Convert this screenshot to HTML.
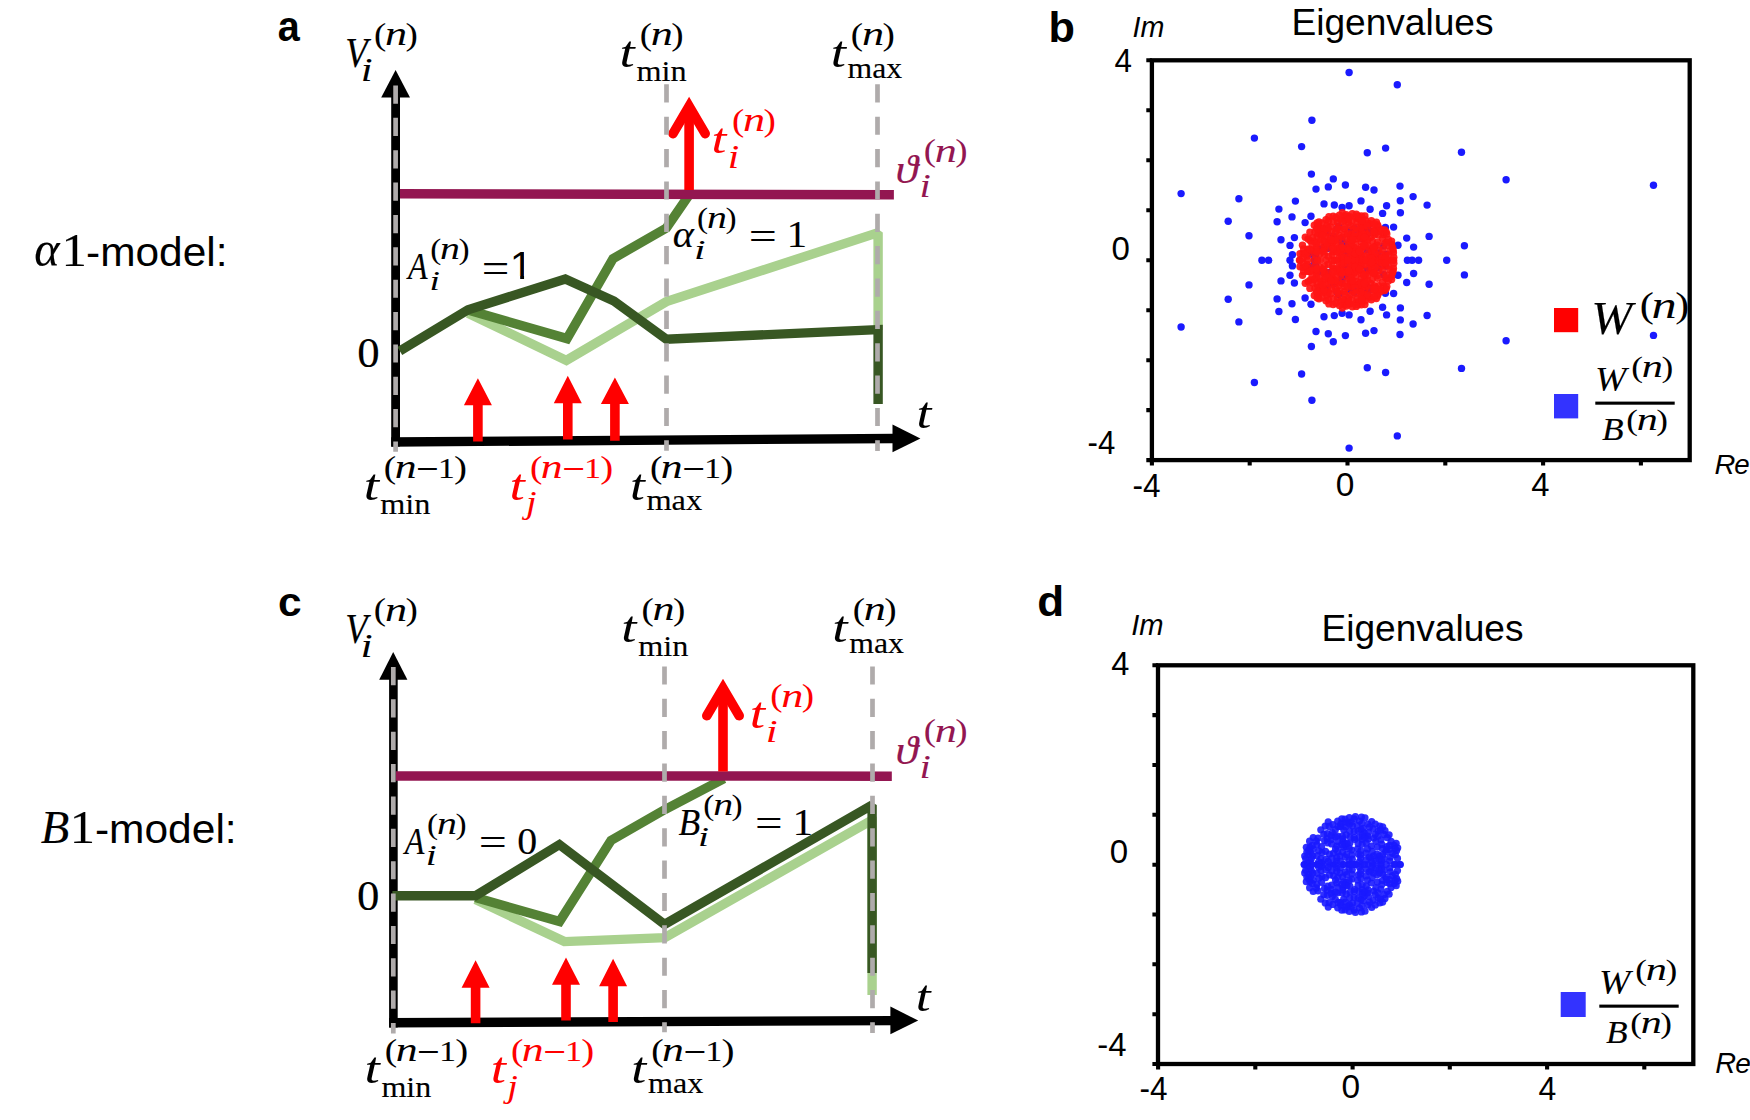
<!DOCTYPE html>
<html lang="en">
<head>
<meta charset="utf-8">
<title>alpha1-model and B1-model: membrane potentials and eigenvalues</title>
<style>
html,body{margin:0;padding:0;background:#fff;}
body{width:1750px;height:1120px;overflow:hidden;}
svg{display:block;}
text{white-space:pre;}
.m{font-family:"Liberation Serif", "DejaVu Serif", serif;}
.s{font-family:"Liberation Sans", "DejaVu Sans", sans-serif;}
</style>
</head>
<body>
<svg width="1750" height="1120" viewBox="0 0 1750 1120">
<defs><clipPath id="nofoot"><path d="M0,-90 H34.3 V2 H24.9 V-7.6 H0 Z"/></clipPath></defs>
<rect width="1750" height="1120" fill="#fff"/>
<g id="panel-a">
<path d="M391.2,442.0 L894,438.45" stroke="#000" stroke-width="9.4" fill="none"/>
<path d="M920.4,438.4 L892.5,424.6 L892.5,452.3 Z" fill="#000"/>
<path d="M395.6,446.6 L395.6,96" stroke="#000" stroke-width="8.8" fill="none"/>
<path d="M395.6,70 L410,97.6 L381.2,97.6 Z" fill="#000"/>
<polyline points="468,313.2 566.4,360.4 666.4,301.6 878.1,232.6 878.1,330" fill="none" stroke="#a9d18e" stroke-width="9.4" stroke-linejoin="miter" stroke-miterlimit="1.6"/>
<polyline points="468,310 567,338.6 613,258.6 666.4,228 689,195" fill="none" stroke="#548235" stroke-width="9.4" stroke-linejoin="miter" stroke-miterlimit="1.6"/>
<polyline points="399.8,351 468,309.8 565.3,279 613.9,301 666.4,339.2 878.1,329.6 878.1,403.9" fill="none" stroke="#385723" stroke-width="9.4" stroke-linejoin="miter" stroke-miterlimit="1.6"/>
<path d="M400,193.8 L893.9,194.7" stroke="#931651" stroke-width="9.5" fill="none"/>
<path d="M477.9,378.2 L491.9,405.3 L482.7,405.3 L482.7,441.6 L473.09999999999997,441.6 L473.09999999999997,405.3 L463.9,405.3 Z" fill="#ff0000"/>
<path d="M567.8,375.8 L581.8,403.2 L572.5999999999999,403.2 L572.5999999999999,439.6 L563.0,439.6 L563.0,403.2 L553.8,403.2 Z" fill="#ff0000"/>
<path d="M614.9,377.6 L628.9,404.1 L619.6999999999999,404.1 L619.6999999999999,440.8 L610.1,440.8 L610.1,404.1 L600.9,404.1 Z" fill="#ff0000"/>
<path d="M689.1,190 L689.1,106.2" stroke="#ff0000" stroke-width="9.6" fill="none"/>
<path d="M673.0,133.6 L689.1,106.2 L705.2,133.6" stroke="#ff0000" stroke-width="9.6" fill="none" stroke-linecap="round" stroke-linejoin="miter" stroke-miterlimit="10"/>
<line x1="395.6" y1="85.5" x2="395.6" y2="451.8" stroke="#afabab" stroke-width="4.7" stroke-dasharray="18.2 14.16"/>
<line x1="666.5" y1="84.3" x2="666.5" y2="450.8" stroke="#afabab" stroke-width="4.7" stroke-dasharray="18.2 14.16"/>
<line x1="877.5" y1="84.3" x2="877.5" y2="450.9" stroke="#afabab" stroke-width="4.7" stroke-dasharray="18.2 14.16"/>
</g>
<g id="labels-a">
<text class="s" transform="matrix(0.3957 0 0 0.4235 277.74 41.39)" font-size="100" font-weight="bold">a</text>
<text class="m" transform="matrix(0.3665 0 0 0.4299 345.19 67.25)" font-size="100" font-style="italic" stroke="#000" stroke-width="0.35" stroke-linejoin="round">V</text>
<text class="m" transform="matrix(0.4273 0 0 0.3293 360.82 81.40)" font-size="100" font-style="italic">i</text>
<text class="m" transform="matrix(0.3699 0 0 0.3154 373.97 45.09)" font-size="100">(</text>
<text class="m" transform="matrix(0.4422 0 0 0.3417 385.02 45.40)" font-size="100" font-style="italic">n</text>
<text class="m" transform="matrix(0.3699 0 0 0.3154 405.51 45.09)" font-size="100">)</text>
<text class="m" transform="matrix(0.5474 0 0 0.4435 619.39 67.47)" font-size="100" font-style="italic">t</text>
<text class="m" transform="matrix(0.3225 0 0 0.3021 636.42 81.10)" font-size="100" stroke="#000" stroke-width="0.45" stroke-linejoin="round">min</text>
<text class="m" transform="matrix(0.3699 0 0 0.3154 639.77 45.09)" font-size="100">(</text>
<text class="m" transform="matrix(0.4422 0 0 0.3417 650.82 45.40)" font-size="100" font-style="italic">n</text>
<text class="m" transform="matrix(0.3699 0 0 0.3154 671.31 45.09)" font-size="100">)</text>
<text class="m" transform="matrix(0.5474 0 0 0.4435 830.79 67.47)" font-size="100" font-style="italic">t</text>
<text class="m" transform="matrix(0.3174 0 0 0.3015 847.53 77.61)" font-size="100" stroke="#000" stroke-width="0.45" stroke-linejoin="round">max</text>
<text class="m" transform="matrix(0.3699 0 0 0.3154 850.87 45.09)" font-size="100">(</text>
<text class="m" transform="matrix(0.4422 0 0 0.3417 861.92 45.40)" font-size="100" font-style="italic">n</text>
<text class="m" transform="matrix(0.3699 0 0 0.3154 882.41 45.09)" font-size="100">)</text>
<text class="m" transform="matrix(0.5356 0 0 0.4312 711.55 153.18)" font-size="100" font-style="italic" fill="#ff0000">t</text>
<text class="m" transform="matrix(0.4117 0 0 0.3293 727.71 167.90)" font-size="100" font-style="italic" fill="#ff0000">i</text>
<text class="m" transform="matrix(0.3699 0 0 0.3154 731.97 130.99)" font-size="100" fill="#ff0000">(</text>
<text class="m" transform="matrix(0.4422 0 0 0.3417 743.02 131.30)" font-size="100" font-style="italic" fill="#ff0000">n</text>
<text class="m" transform="matrix(0.3699 0 0 0.3154 763.51 130.99)" font-size="100" fill="#ff0000">)</text>
<text class="m" transform="matrix(0.4590 0 0 0.4107 895.46 182.80)" font-size="100" font-style="italic" fill="#931651" stroke="#931651" stroke-width="0.32" stroke-linejoin="round">ϑ</text>
<text class="m" transform="matrix(0.4065 0 0 0.3277 919.54 197.10)" font-size="100" font-style="italic" fill="#931651">i</text>
<text class="m" transform="matrix(0.3699 0 0 0.3154 923.77 161.19)" font-size="100" fill="#931651">(</text>
<text class="m" transform="matrix(0.4422 0 0 0.3417 934.82 161.50)" font-size="100" font-style="italic" fill="#931651">n</text>
<text class="m" transform="matrix(0.3699 0 0 0.3154 955.31 161.19)" font-size="100" fill="#931651">)</text>
<text class="m" transform="matrix(0.3199 0 0 0.3848 407.95 278.90)" font-size="100" font-style="italic" stroke="#000" stroke-width="0.40" stroke-linejoin="round">A</text>
<text class="m" transform="matrix(0.3752 0 0 0.2764 429.51 290.10)" font-size="100" font-style="italic">i</text>
<text class="m" transform="matrix(0.3329 0 0 0.2839 430.14 258.90)" font-size="100">(</text>
<text class="m" transform="matrix(0.3980 0 0 0.3075 440.08 259.18)" font-size="100" font-style="italic">n</text>
<text class="m" transform="matrix(0.3329 0 0 0.2839 458.52 258.90)" font-size="100">)</text>
<text class="m" transform="matrix(0.4900 0 0 0.4120 481.86 282.13)" font-size="100">=</text>
<text class="s" clip-path="url(#nofoot)" transform="matrix(0.4186 0 0 0.3895 509.77 278.90)" font-size="100">1</text>
<text class="m" transform="matrix(0.4026 0 0 0.3797 672.70 247.21)" font-size="100" font-style="italic" stroke="#000" stroke-width="0.36" stroke-linejoin="round">α</text>
<text class="m" transform="matrix(0.4169 0 0 0.2779 693.98 258.80)" font-size="100" font-style="italic">i</text>
<text class="m" transform="matrix(0.3329 0 0 0.2839 697.04 227.60)" font-size="100">(</text>
<text class="m" transform="matrix(0.3980 0 0 0.3075 706.98 227.88)" font-size="100" font-style="italic">n</text>
<text class="m" transform="matrix(0.3329 0 0 0.2839 725.42 227.60)" font-size="100">)</text>
<text class="m" transform="matrix(0.4986 0 0 0.3920 748.72 249.92)" font-size="100">=</text>
<text class="m" transform="matrix(0.4062 0 0 0.3711 786.83 247.10)" font-size="100" stroke="#000" stroke-width="0.36" stroke-linejoin="round">1</text>
<text class="m" transform="matrix(0.4483 0 0 0.4238 357.19 367.09)" font-size="100" stroke="#000" stroke-width="0.32" stroke-linejoin="round">0</text>
<text class="m" transform="matrix(0.5356 0 0 0.4417 916.55 427.77)" font-size="100" font-style="italic">t</text>
<text class="m" transform="matrix(0.5514 0 0 0.4347 363.68 499.58)" font-size="100" font-style="italic">t</text>
<text class="m" transform="matrix(0.3231 0 0 0.2975 380.22 514.10)" font-size="100" stroke="#000" stroke-width="0.45" stroke-linejoin="round">min</text>
<text class="m" transform="matrix(0.3738 0 0 0.3143 383.76 478.11)" font-size="100">(</text>
<text class="m" transform="matrix(0.4375 0 0 0.3374 394.64 478.20)" font-size="100" font-style="italic">n</text>
<text class="m" transform="matrix(0.4040 0 0 0.4016 415.99 481.93)" font-size="100">−</text>
<text class="m" transform="matrix(0.3352 0 0 0.2999 438.05 478.10)" font-size="100" stroke="#000" stroke-width="0.44" stroke-linejoin="round">1</text>
<text class="m" transform="matrix(0.3894 0 0 0.3143 454.05 478.11)" font-size="100">)</text>
<text class="m" transform="matrix(0.5514 0 0 0.4347 509.48 499.58)" font-size="100" font-style="italic" fill="#ff0000">t</text>
<text class="m" transform="matrix(0.3802 0 0 0.3166 525.97 513.36)" font-size="100" font-style="italic" fill="#ff0000">j</text>
<text class="m" transform="matrix(0.3738 0 0 0.3143 529.96 478.11)" font-size="100" fill="#ff0000">(</text>
<text class="m" transform="matrix(0.4375 0 0 0.3374 540.84 478.20)" font-size="100" font-style="italic" fill="#ff0000">n</text>
<text class="m" transform="matrix(0.4040 0 0 0.4016 562.19 481.93)" font-size="100" fill="#ff0000">−</text>
<text class="m" transform="matrix(0.3352 0 0 0.2999 584.25 478.10)" font-size="100" fill="#ff0000" stroke="#ff0000" stroke-width="0.44" stroke-linejoin="round">1</text>
<text class="m" transform="matrix(0.3894 0 0 0.3143 600.25 478.11)" font-size="100" fill="#ff0000">)</text>
<text class="m" transform="matrix(0.5356 0 0 0.4347 629.95 499.58)" font-size="100" font-style="italic">t</text>
<text class="m" transform="matrix(0.3240 0 0 0.3015 646.42 509.81)" font-size="100" stroke="#000" stroke-width="0.45" stroke-linejoin="round">max</text>
<text class="m" transform="matrix(0.3738 0 0 0.3143 649.96 478.11)" font-size="100">(</text>
<text class="m" transform="matrix(0.4375 0 0 0.3374 660.84 478.20)" font-size="100" font-style="italic">n</text>
<text class="m" transform="matrix(0.4040 0 0 0.4016 682.19 481.93)" font-size="100">−</text>
<text class="m" transform="matrix(0.3352 0 0 0.2999 704.25 478.10)" font-size="100" stroke="#000" stroke-width="0.44" stroke-linejoin="round">1</text>
<text class="m" transform="matrix(0.3894 0 0 0.3143 720.25 478.11)" font-size="100">)</text>
</g>
<g id="panel-c">
<path d="M389.1,1022.8 L892,1020.6" stroke="#000" stroke-width="9.4" fill="none"/>
<path d="M918.2,1020.6 L890.4,1006.4 L890.4,1034.3 Z" fill="#000"/>
<path d="M393.4,1027.5 L393.4,678" stroke="#000" stroke-width="8.6" fill="none"/>
<path d="M393.2,652 L407.4,679.8 L379.2,679.8 Z" fill="#000"/>
<polyline points="475.5,899.6 564.4,941.6 664.9,937.6 869.6,821.4 872.1,821.4 872.1,994.9" fill="none" stroke="#a9d18e" stroke-width="9.4" stroke-linejoin="miter" stroke-miterlimit="1.6"/>
<polyline points="475.5,897.6 559.6,921.6 611,840.4 664.9,809.5 724,778.6" fill="none" stroke="#548235" stroke-width="9.4" stroke-linejoin="miter" stroke-miterlimit="1.6"/>
<polyline points="392.4,895.8 475.5,895.8 559.4,844.6 664.6,924.4 872.1,805 872.1,972.9" fill="none" stroke="#385723" stroke-width="9.4" stroke-linejoin="miter" stroke-miterlimit="1.6"/>
<path d="M395.8,775.9 L891.8,776.15" stroke="#931651" stroke-width="9.5" fill="none"/>
<path d="M475.6,960.3 L489.6,987.7 L480.40000000000003,987.7 L480.40000000000003,1023.2 L470.8,1023.2 L470.8,987.7 L461.6,987.7 Z" fill="#ff0000"/>
<path d="M566,957.6 L580,984.7 L570.8,984.7 L570.8,1020.4 L561.2,1020.4 L561.2,984.7 L552,984.7 Z" fill="#ff0000"/>
<path d="M613.1,958.8 L627.1,986.2 L617.9,986.2 L617.9,1022 L608.3000000000001,1022 L608.3000000000001,986.2 L599.1,986.2 Z" fill="#ff0000"/>
<path d="M723,771.5 L723,688.3" stroke="#ff0000" stroke-width="9.6" fill="none"/>
<path d="M706.8,715.7 L723,688.3 L739.2,715.7" stroke="#ff0000" stroke-width="9.6" fill="none" stroke-linecap="round" stroke-linejoin="miter" stroke-miterlimit="10"/>
<line x1="393.3" y1="667" x2="393.3" y2="1033.4" stroke="#afabab" stroke-width="4.7" stroke-dasharray="18.2 14.16"/>
<line x1="664.5" y1="666.4" x2="664.5" y2="1032.2" stroke="#afabab" stroke-width="4.7" stroke-dasharray="18.2 14.16"/>
<line x1="872.5" y1="666.4" x2="872.5" y2="1032.9" stroke="#afabab" stroke-width="4.7" stroke-dasharray="18.2 14.16"/>
</g>
<g id="labels-c">
<text class="s" transform="matrix(0.4244 0 0 0.4107 277.94 616.20)" font-size="100" font-weight="bold">c</text>
<text class="m" transform="matrix(0.3635 0 0 0.4299 345.20 642.65)" font-size="100" font-style="italic" stroke="#000" stroke-width="0.35" stroke-linejoin="round">V</text>
<text class="m" transform="matrix(0.4377 0 0 0.3293 360.46 657.00)" font-size="100" font-style="italic">i</text>
<text class="m" transform="matrix(0.3699 0 0 0.3154 373.87 620.29)" font-size="100">(</text>
<text class="m" transform="matrix(0.4422 0 0 0.3417 384.92 620.60)" font-size="100" font-style="italic">n</text>
<text class="m" transform="matrix(0.3699 0 0 0.3154 405.41 620.29)" font-size="100">)</text>
<text class="m" transform="matrix(0.5474 0 0 0.4435 621.19 642.47)" font-size="100" font-style="italic">t</text>
<text class="m" transform="matrix(0.3225 0 0 0.3021 638.22 656.10)" font-size="100" stroke="#000" stroke-width="0.45" stroke-linejoin="round">min</text>
<text class="m" transform="matrix(0.3699 0 0 0.3154 641.57 620.09)" font-size="100">(</text>
<text class="m" transform="matrix(0.4422 0 0 0.3417 652.62 620.40)" font-size="100" font-style="italic">n</text>
<text class="m" transform="matrix(0.3699 0 0 0.3154 673.11 620.09)" font-size="100">)</text>
<text class="m" transform="matrix(0.5514 0 0 0.4435 832.18 642.47)" font-size="100" font-style="italic">t</text>
<text class="m" transform="matrix(0.3174 0 0 0.3015 849.33 652.91)" font-size="100" stroke="#000" stroke-width="0.45" stroke-linejoin="round">max</text>
<text class="m" transform="matrix(0.3699 0 0 0.3154 852.67 620.09)" font-size="100">(</text>
<text class="m" transform="matrix(0.4422 0 0 0.3417 863.72 620.40)" font-size="100" font-style="italic">n</text>
<text class="m" transform="matrix(0.3699 0 0 0.3154 884.21 620.09)" font-size="100">)</text>
<text class="m" transform="matrix(0.5514 0 0 0.4470 749.68 728.16)" font-size="100" font-style="italic" fill="#ff0000">t</text>
<text class="m" transform="matrix(0.4273 0 0 0.3202 765.82 742.10)" font-size="100" font-style="italic" fill="#ff0000">i</text>
<text class="m" transform="matrix(0.3699 0 0 0.3154 770.17 706.19)" font-size="100" fill="#ff0000">(</text>
<text class="m" transform="matrix(0.4422 0 0 0.3417 781.22 706.50)" font-size="100" font-style="italic" fill="#ff0000">n</text>
<text class="m" transform="matrix(0.3699 0 0 0.3154 801.71 706.19)" font-size="100" fill="#ff0000">)</text>
<text class="m" transform="matrix(0.4590 0 0 0.4107 895.46 763.50)" font-size="100" font-style="italic" fill="#931651" stroke="#931651" stroke-width="0.32" stroke-linejoin="round">ϑ</text>
<text class="m" transform="matrix(0.4065 0 0 0.3293 919.54 777.90)" font-size="100" font-style="italic" fill="#931651">i</text>
<text class="m" transform="matrix(0.3699 0 0 0.3154 923.77 741.19)" font-size="100" fill="#931651">(</text>
<text class="m" transform="matrix(0.4422 0 0 0.3417 934.82 741.50)" font-size="100" font-style="italic" fill="#931651">n</text>
<text class="m" transform="matrix(0.3699 0 0 0.3154 955.31 741.19)" font-size="100" fill="#931651">)</text>
<text class="m" transform="matrix(0.3214 0 0 0.3848 404.76 854.00)" font-size="100" font-style="italic" stroke="#000" stroke-width="0.40" stroke-linejoin="round">A</text>
<text class="m" transform="matrix(0.3961 0 0 0.2839 425.80 865.20)" font-size="100" font-style="italic">i</text>
<text class="m" transform="matrix(0.3329 0 0 0.2839 427.04 833.50)" font-size="100">(</text>
<text class="m" transform="matrix(0.3980 0 0 0.3075 436.98 833.78)" font-size="100" font-style="italic">n</text>
<text class="m" transform="matrix(0.3329 0 0 0.2839 455.42 833.50)" font-size="100">)</text>
<text class="m" transform="matrix(0.4986 0 0 0.3920 478.72 856.32)" font-size="100">=</text>
<text class="m" transform="matrix(0.3987 0 0 0.3734 517.18 853.84)" font-size="100" stroke="#000" stroke-width="0.36" stroke-linejoin="round">0</text>
<text class="m" transform="matrix(0.3554 0 0 0.3801 678.47 835.19)" font-size="100" font-style="italic" stroke="#000" stroke-width="0.38" stroke-linejoin="round">B</text>
<text class="m" transform="matrix(0.3961 0 0 0.2764 698.10 846.40)" font-size="100" font-style="italic">i</text>
<text class="m" transform="matrix(0.3329 0 0 0.2839 703.24 815.10)" font-size="100">(</text>
<text class="m" transform="matrix(0.3980 0 0 0.3075 713.18 815.38)" font-size="100" font-style="italic">n</text>
<text class="m" transform="matrix(0.3329 0 0 0.2839 731.62 815.10)" font-size="100">)</text>
<text class="m" transform="matrix(0.4900 0 0 0.3920 754.96 837.12)" font-size="100">=</text>
<text class="m" transform="matrix(0.4034 0 0 0.3742 792.75 835.30)" font-size="100" stroke="#000" stroke-width="0.36" stroke-linejoin="round">1</text>
<text class="m" transform="matrix(0.4483 0 0 0.4223 356.89 909.59)" font-size="100" stroke="#000" stroke-width="0.32" stroke-linejoin="round">0</text>
<text class="m" transform="matrix(0.5356 0 0 0.4400 915.85 1010.67)" font-size="100" font-style="italic">t</text>
<text class="m" transform="matrix(0.5514 0 0 0.4347 364.48 1082.78)" font-size="100" font-style="italic">t</text>
<text class="m" transform="matrix(0.3205 0 0 0.2960 381.43 1097.00)" font-size="100" stroke="#000" stroke-width="0.45" stroke-linejoin="round">min</text>
<text class="m" transform="matrix(0.3738 0 0 0.3143 384.86 1061.11)" font-size="100">(</text>
<text class="m" transform="matrix(0.4375 0 0 0.3374 395.74 1061.20)" font-size="100" font-style="italic">n</text>
<text class="m" transform="matrix(0.4040 0 0 0.4016 417.09 1064.93)" font-size="100">−</text>
<text class="m" transform="matrix(0.3352 0 0 0.2999 439.15 1061.10)" font-size="100" stroke="#000" stroke-width="0.44" stroke-linejoin="round">1</text>
<text class="m" transform="matrix(0.3894 0 0 0.3143 455.15 1061.11)" font-size="100">)</text>
<text class="m" transform="matrix(0.5474 0 0 0.4347 490.69 1082.78)" font-size="100" font-style="italic" fill="#ff0000">t</text>
<text class="m" transform="matrix(0.3802 0 0 0.3166 507.17 1096.56)" font-size="100" font-style="italic" fill="#ff0000">j</text>
<text class="m" transform="matrix(0.3738 0 0 0.3143 510.96 1061.11)" font-size="100" fill="#ff0000">(</text>
<text class="m" transform="matrix(0.4375 0 0 0.3374 521.84 1061.20)" font-size="100" font-style="italic" fill="#ff0000">n</text>
<text class="m" transform="matrix(0.4040 0 0 0.4016 543.19 1064.93)" font-size="100" fill="#ff0000">−</text>
<text class="m" transform="matrix(0.3352 0 0 0.2999 565.25 1061.10)" font-size="100" fill="#ff0000" stroke="#ff0000" stroke-width="0.44" stroke-linejoin="round">1</text>
<text class="m" transform="matrix(0.3894 0 0 0.3143 581.25 1061.11)" font-size="100" fill="#ff0000">)</text>
<text class="m" transform="matrix(0.5396 0 0 0.4347 631.13 1082.78)" font-size="100" font-style="italic">t</text>
<text class="m" transform="matrix(0.3216 0 0 0.2994 647.92 1092.71)" font-size="100" stroke="#000" stroke-width="0.45" stroke-linejoin="round">max</text>
<text class="m" transform="matrix(0.3738 0 0 0.3143 651.16 1061.11)" font-size="100">(</text>
<text class="m" transform="matrix(0.4375 0 0 0.3374 662.04 1061.20)" font-size="100" font-style="italic">n</text>
<text class="m" transform="matrix(0.4040 0 0 0.4016 683.39 1064.93)" font-size="100">−</text>
<text class="m" transform="matrix(0.3352 0 0 0.2999 705.45 1061.10)" font-size="100" stroke="#000" stroke-width="0.44" stroke-linejoin="round">1</text>
<text class="m" transform="matrix(0.3894 0 0 0.3143 721.45 1061.11)" font-size="100">)</text>
</g>
<text class="m" transform="matrix(0.4827 0 0 0.4980 34.36 266.39)" font-size="100" font-style="italic" stroke="#000" stroke-width="0.29" stroke-linejoin="round">α</text>
<text class="m" transform="matrix(0.5084 0 0 0.4741 61.43 266.00)" font-size="100" stroke="#000" stroke-width="0.28" stroke-linejoin="round">1</text>
<text class="s" transform="matrix(0.4245 0 0 0.4126 86.01 266.00)" font-size="100">-model:</text>
<text class="m" transform="matrix(0.4658 0 0 0.4698 40.87 842.66)" font-size="100" font-style="italic" stroke="#000" stroke-width="0.30" stroke-linejoin="round">B</text>
<text class="m" transform="matrix(0.5056 0 0 0.4741 69.76 842.80)" font-size="100" stroke="#000" stroke-width="0.29" stroke-linejoin="round">1</text>
<text class="s" transform="matrix(0.4252 0 0 0.4126 94.91 842.80)" font-size="100">-model:</text>
<g id="panel-b">
<g fill="#1a1aff">
<circle cx="1349.1" cy="72.5" r="3.7"/><circle cx="1349.1" cy="448.1" r="3.7"/><circle cx="1397.3" cy="84.7" r="3.7"/><circle cx="1397.3" cy="435.9" r="3.7"/><circle cx="1311.9" cy="120.3" r="3.7"/><circle cx="1311.9" cy="400.3" r="3.7"/><circle cx="1254.4" cy="138.1" r="3.7"/><circle cx="1254.4" cy="382.5" r="3.7"/><circle cx="1301.6" cy="146.6" r="3.7"/><circle cx="1301.6" cy="374.0" r="3.7"/><circle cx="1385.6" cy="148.1" r="3.7"/><circle cx="1385.6" cy="372.5" r="3.7"/><circle cx="1367.3" cy="152.8" r="3.7"/><circle cx="1367.3" cy="367.8" r="3.7"/><circle cx="1461.5" cy="152.2" r="3.7"/><circle cx="1461.5" cy="368.4" r="3.7"/><circle cx="1506.1" cy="179.8" r="3.7"/><circle cx="1506.1" cy="340.8" r="3.7"/><circle cx="1653.5" cy="185.2" r="3.7"/><circle cx="1653.5" cy="335.4" r="3.7"/><circle cx="1311.4" cy="174.1" r="3.7"/><circle cx="1311.4" cy="346.5" r="3.7"/><circle cx="1333.3" cy="178.9" r="3.7"/><circle cx="1333.3" cy="341.7" r="3.7"/><circle cx="1345.4" cy="185.0" r="3.7"/><circle cx="1345.4" cy="335.6" r="3.7"/><circle cx="1328.3" cy="186.9" r="3.7"/><circle cx="1328.3" cy="333.7" r="3.7"/><circle cx="1316.0" cy="189.1" r="3.7"/><circle cx="1316.0" cy="331.5" r="3.7"/><circle cx="1365.6" cy="187.3" r="3.7"/><circle cx="1365.6" cy="333.3" r="3.7"/><circle cx="1374.0" cy="190.0" r="3.7"/><circle cx="1374.0" cy="330.6" r="3.7"/><circle cx="1400.0" cy="186.1" r="3.7"/><circle cx="1400.0" cy="334.5" r="3.7"/><circle cx="1413.1" cy="196.6" r="3.7"/><circle cx="1413.1" cy="324.0" r="3.7"/><circle cx="1238.9" cy="198.7" r="3.7"/><circle cx="1238.9" cy="321.9" r="3.7"/><circle cx="1295.4" cy="201.1" r="3.7"/><circle cx="1295.4" cy="319.5" r="3.7"/><circle cx="1361.0" cy="200.9" r="3.7"/><circle cx="1361.0" cy="319.7" r="3.7"/><circle cx="1400.3" cy="200.7" r="3.7"/><circle cx="1400.3" cy="319.9" r="3.7"/><circle cx="1324.0" cy="203.9" r="3.7"/><circle cx="1324.0" cy="316.7" r="3.7"/><circle cx="1334.3" cy="205.0" r="3.7"/><circle cx="1334.3" cy="315.6" r="3.7"/><circle cx="1342.1" cy="207.4" r="3.7"/><circle cx="1342.1" cy="313.2" r="3.7"/><circle cx="1349.1" cy="205.7" r="3.7"/><circle cx="1349.1" cy="314.9" r="3.7"/><circle cx="1386.6" cy="205.7" r="3.7"/><circle cx="1386.6" cy="314.9" r="3.7"/><circle cx="1427.1" cy="205.1" r="3.7"/><circle cx="1427.1" cy="315.5" r="3.7"/><circle cx="1278.9" cy="209.1" r="3.7"/><circle cx="1278.9" cy="311.5" r="3.7"/><circle cx="1370.1" cy="209.3" r="3.7"/><circle cx="1370.1" cy="311.3" r="3.7"/><circle cx="1382.6" cy="213.4" r="3.7"/><circle cx="1382.6" cy="307.2" r="3.7"/><circle cx="1400.4" cy="212.7" r="3.7"/><circle cx="1400.4" cy="307.9" r="3.7"/><circle cx="1292.0" cy="216.9" r="3.7"/><circle cx="1292.0" cy="303.7" r="3.7"/><circle cx="1311.0" cy="216.3" r="3.7"/><circle cx="1311.0" cy="304.3" r="3.7"/><circle cx="1277.1" cy="221.7" r="3.7"/><circle cx="1277.1" cy="298.9" r="3.7"/><circle cx="1228.2" cy="221.3" r="3.7"/><circle cx="1228.2" cy="299.3" r="3.7"/><circle cx="1305.1" cy="222.6" r="3.7"/><circle cx="1305.1" cy="298.0" r="3.7"/><circle cx="1385.4" cy="227.4" r="3.7"/><circle cx="1385.4" cy="293.2" r="3.7"/><circle cx="1393.6" cy="227.1" r="3.7"/><circle cx="1393.6" cy="293.5" r="3.7"/><circle cx="1249.0" cy="235.7" r="3.7"/><circle cx="1249.0" cy="284.9" r="3.7"/><circle cx="1294.4" cy="237.6" r="3.7"/><circle cx="1294.4" cy="283.0" r="3.7"/><circle cx="1281.0" cy="239.7" r="3.7"/><circle cx="1281.0" cy="280.9" r="3.7"/><circle cx="1406.7" cy="238.1" r="3.7"/><circle cx="1406.7" cy="282.5" r="3.7"/><circle cx="1429.1" cy="236.4" r="3.7"/><circle cx="1429.1" cy="284.2" r="3.7"/><circle cx="1290.0" cy="245.4" r="3.7"/><circle cx="1290.0" cy="275.2" r="3.7"/><circle cx="1398.0" cy="245.3" r="3.7"/><circle cx="1398.0" cy="275.3" r="3.7"/><circle cx="1413.6" cy="247.1" r="3.7"/><circle cx="1413.6" cy="273.5" r="3.7"/><circle cx="1464.4" cy="245.7" r="3.7"/><circle cx="1464.4" cy="274.9" r="3.7"/><circle cx="1292.4" cy="254.7" r="3.7"/><circle cx="1292.4" cy="265.9" r="3.7"/><circle cx="1181.1" cy="193.6" r="3.7"/><circle cx="1181.1" cy="327.0" r="3.7"/><circle cx="1367.1" cy="249.9" r="3.7"/><circle cx="1367.1" cy="270.7" r="3.7"/><circle cx="1378.2" cy="253.0" r="3.7"/><circle cx="1378.2" cy="267.6" r="3.7"/><circle cx="1358.8" cy="233.6" r="3.7"/><circle cx="1358.8" cy="287.0" r="3.7"/><circle cx="1346.6" cy="250.7" r="3.7"/><circle cx="1346.6" cy="269.9" r="3.7"/><circle cx="1348.4" cy="252.7" r="3.7"/><circle cx="1348.4" cy="267.9" r="3.7"/><circle cx="1356.9" cy="257.3" r="3.7"/><circle cx="1356.9" cy="263.3" r="3.7"/><circle cx="1324.5" cy="246.8" r="3.7"/><circle cx="1324.5" cy="273.8" r="3.7"/><circle cx="1357.6" cy="251.2" r="3.7"/><circle cx="1357.6" cy="269.4" r="3.7"/><circle cx="1315.5" cy="255.1" r="3.7"/><circle cx="1315.5" cy="265.5" r="3.7"/><circle cx="1356.5" cy="231.5" r="3.7"/><circle cx="1356.5" cy="289.1" r="3.7"/><circle cx="1385.9" cy="254.5" r="3.7"/><circle cx="1385.9" cy="266.1" r="3.7"/><circle cx="1369.6" cy="231.0" r="3.7"/><circle cx="1369.6" cy="289.6" r="3.7"/><circle cx="1361.0" cy="254.8" r="3.7"/><circle cx="1361.0" cy="265.8" r="3.7"/><circle cx="1328.2" cy="248.2" r="3.7"/><circle cx="1328.2" cy="272.4" r="3.7"/><circle cx="1342.5" cy="243.9" r="3.7"/><circle cx="1342.5" cy="276.7" r="3.7"/><circle cx="1359.3" cy="230.9" r="3.7"/><circle cx="1359.3" cy="289.7" r="3.7"/><circle cx="1375.8" cy="254.5" r="3.7"/><circle cx="1375.8" cy="266.1" r="3.7"/><circle cx="1354.6" cy="254.4" r="3.7"/><circle cx="1354.6" cy="266.2" r="3.7"/><circle cx="1354.2" cy="228.2" r="3.7"/><circle cx="1354.2" cy="292.4" r="3.7"/><circle cx="1340.8" cy="238.7" r="3.7"/><circle cx="1340.8" cy="281.9" r="3.7"/><circle cx="1362.6" cy="238.5" r="3.7"/><circle cx="1362.6" cy="282.1" r="3.7"/><circle cx="1325.9" cy="231.4" r="3.7"/><circle cx="1325.9" cy="289.2" r="3.7"/><circle cx="1342.2" cy="241.1" r="3.7"/><circle cx="1342.2" cy="279.5" r="3.7"/><circle cx="1320.0" cy="249.2" r="3.7"/><circle cx="1320.0" cy="271.4" r="3.7"/><circle cx="1367.9" cy="233.4" r="3.7"/><circle cx="1367.9" cy="287.2" r="3.7"/><circle cx="1383.7" cy="245.9" r="3.7"/><circle cx="1383.7" cy="274.7" r="3.7"/><circle cx="1328.1" cy="242.4" r="3.7"/><circle cx="1328.1" cy="278.2" r="3.7"/><circle cx="1347.3" cy="244.7" r="3.7"/><circle cx="1347.3" cy="275.9" r="3.7"/><circle cx="1342.8" cy="253.5" r="3.7"/><circle cx="1342.8" cy="267.1" r="3.7"/><circle cx="1338.8" cy="226.2" r="3.7"/><circle cx="1338.8" cy="294.4" r="3.7"/><circle cx="1367.5" cy="229.1" r="3.7"/><circle cx="1367.5" cy="291.5" r="3.7"/><circle cx="1337.1" cy="228.4" r="3.7"/><circle cx="1337.1" cy="292.2" r="3.7"/><circle cx="1351.0" cy="230.1" r="3.7"/><circle cx="1351.0" cy="290.5" r="3.7"/><circle cx="1310.7" cy="254.0" r="3.7"/><circle cx="1310.7" cy="266.6" r="3.7"/><circle cx="1333.2" cy="236.3" r="3.7"/><circle cx="1333.2" cy="284.3" r="3.7"/><circle cx="1341.0" cy="252.4" r="3.7"/><circle cx="1341.0" cy="268.2" r="3.7"/><circle cx="1314.6" cy="259.6" r="3.7"/><circle cx="1314.6" cy="261.0" r="3.7"/><circle cx="1369.5" cy="232.0" r="3.7"/><circle cx="1369.5" cy="288.6" r="3.7"/><circle cx="1334.2" cy="238.9" r="3.7"/><circle cx="1334.2" cy="281.7" r="3.7"/><circle cx="1347.5" cy="254.3" r="3.7"/><circle cx="1347.5" cy="266.3" r="3.7"/><circle cx="1261.9" cy="260.3" r="3.7"/><circle cx="1268.6" cy="260.3" r="3.7"/><circle cx="1290.0" cy="260.3" r="3.7"/><circle cx="1407.4" cy="260.3" r="3.7"/><circle cx="1412.1" cy="260.3" r="3.7"/><circle cx="1418.6" cy="260.3" r="3.7"/><circle cx="1446.7" cy="260.3" r="3.7"/>
</g>
<g fill="#ff1414" fill-opacity="0.93">
<circle cx="1299.9" cy="260.3" r="3.7"/><circle cx="1307.5" cy="260.3" r="3.7"/><circle cx="1314.3" cy="260.3" r="3.7"/><circle cx="1320.1" cy="260.3" r="3.7"/><circle cx="1326.2" cy="260.3" r="3.7"/><circle cx="1334.1" cy="260.3" r="3.7"/><circle cx="1341.2" cy="260.3" r="3.7"/><circle cx="1347.5" cy="260.3" r="3.7"/><circle cx="1355.0" cy="260.3" r="3.7"/><circle cx="1360.1" cy="260.3" r="3.7"/><circle cx="1367.8" cy="260.3" r="3.7"/><circle cx="1373.9" cy="260.3" r="3.7"/><circle cx="1380.9" cy="260.3" r="3.7"/><circle cx="1387.0" cy="260.3" r="3.7"/><circle cx="1393.6" cy="260.3" r="3.7"/><circle cx="1321.0" cy="232.7" r="3.7"/><circle cx="1321.0" cy="287.9" r="3.7"/><circle cx="1370.9" cy="237.2" r="3.7"/><circle cx="1370.9" cy="283.4" r="3.7"/><circle cx="1386.4" cy="242.1" r="3.7"/><circle cx="1386.4" cy="278.5" r="3.7"/><circle cx="1345.4" cy="260.3" r="3.7"/><circle cx="1307.4" cy="256.1" r="3.7"/><circle cx="1307.4" cy="264.5" r="3.7"/><circle cx="1338.9" cy="235.2" r="3.7"/><circle cx="1338.9" cy="285.4" r="3.7"/><circle cx="1349.9" cy="216.7" r="3.7"/><circle cx="1349.9" cy="303.9" r="3.7"/><circle cx="1310.3" cy="240.7" r="3.7"/><circle cx="1310.3" cy="279.9" r="3.7"/><circle cx="1331.9" cy="245.4" r="3.7"/><circle cx="1331.9" cy="275.2" r="3.7"/><circle cx="1359.8" cy="234.9" r="3.7"/><circle cx="1359.8" cy="285.7" r="3.7"/><circle cx="1354.3" cy="247.5" r="3.7"/><circle cx="1354.3" cy="273.1" r="3.7"/><circle cx="1319.9" cy="253.7" r="3.7"/><circle cx="1319.9" cy="266.9" r="3.7"/><circle cx="1342.3" cy="212.6" r="3.7"/><circle cx="1342.3" cy="308.0" r="3.7"/><circle cx="1347.5" cy="251.6" r="3.7"/><circle cx="1347.5" cy="269.0" r="3.7"/><circle cx="1317.1" cy="236.6" r="3.7"/><circle cx="1317.1" cy="284.0" r="3.7"/><circle cx="1351.1" cy="234.4" r="3.7"/><circle cx="1351.1" cy="286.2" r="3.7"/><circle cx="1374.8" cy="246.7" r="3.7"/><circle cx="1374.8" cy="273.9" r="3.7"/><circle cx="1328.9" cy="216.7" r="3.7"/><circle cx="1328.9" cy="303.9" r="3.7"/><circle cx="1329.9" cy="237.0" r="3.7"/><circle cx="1329.9" cy="283.6" r="3.7"/><circle cx="1337.5" cy="222.6" r="3.7"/><circle cx="1337.5" cy="298.0" r="3.7"/><circle cx="1319.7" cy="242.4" r="3.7"/><circle cx="1319.7" cy="278.2" r="3.7"/><circle cx="1322.2" cy="222.9" r="3.7"/><circle cx="1322.2" cy="297.7" r="3.7"/><circle cx="1300.0" cy="253.8" r="3.7"/><circle cx="1300.0" cy="266.8" r="3.7"/><circle cx="1357.0" cy="222.1" r="3.7"/><circle cx="1357.0" cy="298.5" r="3.7"/><circle cx="1354.3" cy="256.4" r="3.7"/><circle cx="1354.3" cy="264.2" r="3.7"/><circle cx="1385.3" cy="255.3" r="3.7"/><circle cx="1385.3" cy="265.3" r="3.7"/><circle cx="1359.4" cy="229.7" r="3.7"/><circle cx="1359.4" cy="290.9" r="3.7"/><circle cx="1333.2" cy="252.0" r="3.7"/><circle cx="1333.2" cy="268.6" r="3.7"/><circle cx="1376.6" cy="257.0" r="3.7"/><circle cx="1376.6" cy="263.6" r="3.7"/><circle cx="1328.5" cy="221.0" r="3.7"/><circle cx="1328.5" cy="299.6" r="3.7"/><circle cx="1393.0" cy="260.3" r="3.7"/><circle cx="1361.3" cy="242.1" r="3.7"/><circle cx="1361.3" cy="278.5" r="3.7"/><circle cx="1364.9" cy="216.0" r="3.7"/><circle cx="1364.9" cy="304.6" r="3.7"/><circle cx="1341.0" cy="244.7" r="3.7"/><circle cx="1341.0" cy="275.9" r="3.7"/><circle cx="1366.8" cy="234.7" r="3.7"/><circle cx="1366.8" cy="285.9" r="3.7"/><circle cx="1376.4" cy="222.1" r="3.7"/><circle cx="1376.4" cy="298.5" r="3.7"/><circle cx="1372.0" cy="226.2" r="3.7"/><circle cx="1372.0" cy="294.4" r="3.7"/><circle cx="1344.8" cy="234.1" r="3.7"/><circle cx="1344.8" cy="286.5" r="3.7"/><circle cx="1339.9" cy="229.6" r="3.7"/><circle cx="1339.9" cy="291.0" r="3.7"/><circle cx="1383.7" cy="234.5" r="3.7"/><circle cx="1383.7" cy="286.1" r="3.7"/><circle cx="1324.7" cy="246.9" r="3.7"/><circle cx="1324.7" cy="273.7" r="3.7"/><circle cx="1364.6" cy="230.9" r="3.7"/><circle cx="1364.6" cy="289.7" r="3.7"/><circle cx="1389.8" cy="251.0" r="3.7"/><circle cx="1389.8" cy="269.6" r="3.7"/><circle cx="1299.5" cy="260.3" r="3.7"/><circle cx="1384.5" cy="243.6" r="3.7"/><circle cx="1384.5" cy="277.0" r="3.7"/><circle cx="1360.0" cy="258.0" r="3.7"/><circle cx="1360.0" cy="262.6" r="3.7"/><circle cx="1348.5" cy="222.9" r="3.7"/><circle cx="1348.5" cy="297.7" r="3.7"/><circle cx="1340.7" cy="251.0" r="3.7"/><circle cx="1340.7" cy="269.6" r="3.7"/><circle cx="1356.5" cy="238.8" r="3.7"/><circle cx="1356.5" cy="281.8" r="3.7"/><circle cx="1382.4" cy="238.2" r="3.7"/><circle cx="1382.4" cy="282.4" r="3.7"/><circle cx="1374.5" cy="234.9" r="3.7"/><circle cx="1374.5" cy="285.7" r="3.7"/><circle cx="1368.6" cy="252.2" r="3.7"/><circle cx="1368.6" cy="268.4" r="3.7"/><circle cx="1364.2" cy="226.1" r="3.7"/><circle cx="1364.2" cy="294.5" r="3.7"/><circle cx="1356.3" cy="217.9" r="3.7"/><circle cx="1356.3" cy="302.7" r="3.7"/><circle cx="1368.9" cy="257.6" r="3.7"/><circle cx="1368.9" cy="263.0" r="3.7"/><circle cx="1316.1" cy="249.1" r="3.7"/><circle cx="1316.1" cy="271.5" r="3.7"/><circle cx="1378.7" cy="250.1" r="3.7"/><circle cx="1378.7" cy="270.5" r="3.7"/><circle cx="1338.9" cy="258.3" r="3.7"/><circle cx="1338.9" cy="262.3" r="3.7"/><circle cx="1314.6" cy="254.6" r="3.7"/><circle cx="1314.6" cy="266.0" r="3.7"/><circle cx="1333.7" cy="238.1" r="3.7"/><circle cx="1333.7" cy="282.5" r="3.7"/><circle cx="1321.2" cy="228.3" r="3.7"/><circle cx="1321.2" cy="292.3" r="3.7"/><circle cx="1361.5" cy="246.9" r="3.7"/><circle cx="1361.5" cy="273.7" r="3.7"/><circle cx="1338.1" cy="252.7" r="3.7"/><circle cx="1338.1" cy="267.9" r="3.7"/><circle cx="1393.4" cy="252.4" r="3.7"/><circle cx="1393.4" cy="268.2" r="3.7"/><circle cx="1373.7" cy="256.0" r="3.7"/><circle cx="1373.7" cy="264.6" r="3.7"/><circle cx="1346.7" cy="239.9" r="3.7"/><circle cx="1346.7" cy="280.7" r="3.7"/><circle cx="1333.2" cy="216.1" r="3.7"/><circle cx="1333.2" cy="304.5" r="3.7"/><circle cx="1307.7" cy="249.2" r="3.7"/><circle cx="1307.7" cy="271.4" r="3.7"/><circle cx="1364.1" cy="255.9" r="3.7"/><circle cx="1364.1" cy="264.7" r="3.7"/><circle cx="1370.8" cy="255.7" r="3.7"/><circle cx="1370.8" cy="264.9" r="3.7"/><circle cx="1340.0" cy="219.1" r="3.7"/><circle cx="1340.0" cy="301.5" r="3.7"/><circle cx="1326.0" cy="219.8" r="3.7"/><circle cx="1326.0" cy="300.8" r="3.7"/><circle cx="1358.0" cy="254.0" r="3.7"/><circle cx="1358.0" cy="266.6" r="3.7"/><circle cx="1355.2" cy="260.3" r="3.7"/><circle cx="1303.1" cy="253.2" r="3.7"/><circle cx="1303.1" cy="267.4" r="3.7"/><circle cx="1377.5" cy="242.3" r="3.7"/><circle cx="1377.5" cy="278.3" r="3.7"/><circle cx="1309.9" cy="232.2" r="3.7"/><circle cx="1309.9" cy="288.4" r="3.7"/><circle cx="1353.1" cy="229.0" r="3.7"/><circle cx="1353.1" cy="291.6" r="3.7"/><circle cx="1336.3" cy="260.3" r="3.7"/><circle cx="1367.8" cy="245.3" r="3.7"/><circle cx="1367.8" cy="275.3" r="3.7"/><circle cx="1305.3" cy="237.3" r="3.7"/><circle cx="1305.3" cy="283.3" r="3.7"/><circle cx="1337.7" cy="248.5" r="3.7"/><circle cx="1337.7" cy="272.1" r="3.7"/><circle cx="1369.9" cy="223.6" r="3.7"/><circle cx="1369.9" cy="297.0" r="3.7"/><circle cx="1338.0" cy="227.0" r="3.7"/><circle cx="1338.0" cy="293.6" r="3.7"/><circle cx="1326.8" cy="225.7" r="3.7"/><circle cx="1326.8" cy="294.9" r="3.7"/><circle cx="1344.5" cy="220.6" r="3.7"/><circle cx="1344.5" cy="300.0" r="3.7"/><circle cx="1377.6" cy="224.9" r="3.7"/><circle cx="1377.6" cy="295.7" r="3.7"/><circle cx="1302.5" cy="245.3" r="3.7"/><circle cx="1302.5" cy="275.3" r="3.7"/><circle cx="1380.7" cy="229.1" r="3.7"/><circle cx="1380.7" cy="291.5" r="3.7"/><circle cx="1377.6" cy="260.3" r="3.7"/><circle cx="1363.0" cy="222.6" r="3.7"/><circle cx="1363.0" cy="298.0" r="3.7"/><circle cx="1365.1" cy="240.4" r="3.7"/><circle cx="1365.1" cy="280.2" r="3.7"/><circle cx="1344.5" cy="228.9" r="3.7"/><circle cx="1344.5" cy="291.7" r="3.7"/><circle cx="1386.8" cy="234.0" r="3.7"/><circle cx="1386.8" cy="286.6" r="3.7"/><circle cx="1330.8" cy="226.9" r="3.7"/><circle cx="1330.8" cy="293.7" r="3.7"/><circle cx="1347.9" cy="248.3" r="3.7"/><circle cx="1347.9" cy="272.3" r="3.7"/><circle cx="1333.9" cy="241.5" r="3.7"/><circle cx="1333.9" cy="279.1" r="3.7"/><circle cx="1312.6" cy="237.7" r="3.7"/><circle cx="1312.6" cy="282.9" r="3.7"/><circle cx="1362.0" cy="255.4" r="3.7"/><circle cx="1362.0" cy="265.2" r="3.7"/><circle cx="1351.5" cy="247.0" r="3.7"/><circle cx="1351.5" cy="273.6" r="3.7"/><circle cx="1393.1" cy="249.7" r="3.7"/><circle cx="1393.1" cy="270.9" r="3.7"/><circle cx="1371.8" cy="250.9" r="3.7"/><circle cx="1371.8" cy="269.7" r="3.7"/><circle cx="1327.5" cy="232.5" r="3.7"/><circle cx="1327.5" cy="288.1" r="3.7"/><circle cx="1344.6" cy="215.9" r="3.7"/><circle cx="1344.6" cy="304.7" r="3.7"/><circle cx="1348.4" cy="245.4" r="3.7"/><circle cx="1348.4" cy="275.2" r="3.7"/><circle cx="1351.7" cy="255.9" r="3.7"/><circle cx="1351.7" cy="264.7" r="3.7"/><circle cx="1381.5" cy="254.5" r="3.7"/><circle cx="1381.5" cy="266.1" r="3.7"/><circle cx="1324.1" cy="240.9" r="3.7"/><circle cx="1324.1" cy="279.7" r="3.7"/><circle cx="1341.7" cy="255.4" r="3.7"/><circle cx="1341.7" cy="265.2" r="3.7"/><circle cx="1317.6" cy="260.3" r="3.7"/><circle cx="1384.7" cy="230.0" r="3.7"/><circle cx="1384.7" cy="290.6" r="3.7"/><circle cx="1349.9" cy="240.6" r="3.7"/><circle cx="1349.9" cy="280.0" r="3.7"/><circle cx="1324.5" cy="254.5" r="3.7"/><circle cx="1324.5" cy="266.1" r="3.7"/><circle cx="1329.4" cy="242.9" r="3.7"/><circle cx="1329.4" cy="277.7" r="3.7"/><circle cx="1319.0" cy="221.9" r="3.7"/><circle cx="1319.0" cy="298.7" r="3.7"/><circle cx="1342.2" cy="237.1" r="3.7"/><circle cx="1342.2" cy="283.5" r="3.7"/><circle cx="1344.0" cy="257.4" r="3.7"/><circle cx="1344.0" cy="263.2" r="3.7"/><circle cx="1350.6" cy="251.5" r="3.7"/><circle cx="1350.6" cy="269.1" r="3.7"/><circle cx="1307.3" cy="252.3" r="3.7"/><circle cx="1307.3" cy="268.3" r="3.7"/><circle cx="1325.4" cy="236.5" r="3.7"/><circle cx="1325.4" cy="284.1" r="3.7"/><circle cx="1355.4" cy="244.3" r="3.7"/><circle cx="1355.4" cy="276.3" r="3.7"/><circle cx="1372.7" cy="248.0" r="3.7"/><circle cx="1372.7" cy="272.6" r="3.7"/><circle cx="1375.6" cy="229.8" r="3.7"/><circle cx="1375.6" cy="290.8" r="3.7"/><circle cx="1335.4" cy="232.6" r="3.7"/><circle cx="1335.4" cy="288.0" r="3.7"/><circle cx="1352.0" cy="260.3" r="3.7"/><circle cx="1333.2" cy="221.8" r="3.7"/><circle cx="1333.2" cy="298.8" r="3.7"/><circle cx="1391.5" cy="244.2" r="3.7"/><circle cx="1391.5" cy="276.4" r="3.7"/><circle cx="1318.1" cy="225.2" r="3.7"/><circle cx="1318.1" cy="295.4" r="3.7"/><circle cx="1373.7" cy="260.3" r="3.7"/><circle cx="1375.1" cy="253.2" r="3.7"/><circle cx="1375.1" cy="267.4" r="3.7"/><circle cx="1312.1" cy="250.3" r="3.7"/><circle cx="1312.1" cy="270.3" r="3.7"/><circle cx="1339.4" cy="215.2" r="3.7"/><circle cx="1339.4" cy="305.4" r="3.7"/><circle cx="1378.0" cy="226.6" r="3.7"/><circle cx="1378.0" cy="294.0" r="3.7"/><circle cx="1368.1" cy="223.4" r="3.7"/><circle cx="1368.1" cy="297.2" r="3.7"/><circle cx="1335.9" cy="217.4" r="3.7"/><circle cx="1335.9" cy="303.2" r="3.7"/><circle cx="1363.1" cy="233.8" r="3.7"/><circle cx="1363.1" cy="286.8" r="3.7"/><circle cx="1346.4" cy="214.6" r="3.7"/><circle cx="1346.4" cy="306.0" r="3.7"/><circle cx="1369.6" cy="231.6" r="3.7"/><circle cx="1369.6" cy="289.0" r="3.7"/><circle cx="1386.9" cy="245.4" r="3.7"/><circle cx="1386.9" cy="275.2" r="3.7"/><circle cx="1372.3" cy="241.0" r="3.7"/><circle cx="1372.3" cy="279.6" r="3.7"/><circle cx="1371.4" cy="220.8" r="3.7"/><circle cx="1371.4" cy="299.8" r="3.7"/><circle cx="1352.3" cy="213.8" r="3.7"/><circle cx="1352.3" cy="306.8" r="3.7"/><circle cx="1361.5" cy="249.8" r="3.7"/><circle cx="1361.5" cy="270.8" r="3.7"/><circle cx="1331.8" cy="260.3" r="3.7"/><circle cx="1335.9" cy="244.5" r="3.7"/><circle cx="1335.9" cy="276.1" r="3.7"/><circle cx="1303.6" cy="249.0" r="3.7"/><circle cx="1303.6" cy="271.6" r="3.7"/><circle cx="1360.1" cy="238.1" r="3.7"/><circle cx="1360.1" cy="282.5" r="3.7"/><circle cx="1388.5" cy="260.3" r="3.7"/><circle cx="1346.6" cy="219.0" r="3.7"/><circle cx="1346.6" cy="301.6" r="3.7"/><circle cx="1314.9" cy="232.0" r="3.7"/><circle cx="1314.9" cy="288.6" r="3.7"/><circle cx="1327.0" cy="248.2" r="3.7"/><circle cx="1327.0" cy="272.4" r="3.7"/><circle cx="1361.1" cy="223.8" r="3.7"/><circle cx="1361.1" cy="296.8" r="3.7"/><circle cx="1320.3" cy="234.6" r="3.7"/><circle cx="1320.3" cy="286.0" r="3.7"/><circle cx="1355.5" cy="251.6" r="3.7"/><circle cx="1355.5" cy="269.0" r="3.7"/><circle cx="1382.1" cy="257.6" r="3.7"/><circle cx="1382.1" cy="263.0" r="3.7"/><circle cx="1314.2" cy="241.4" r="3.7"/><circle cx="1314.2" cy="279.2" r="3.7"/><circle cx="1386.1" cy="231.9" r="3.7"/><circle cx="1386.1" cy="288.7" r="3.7"/><circle cx="1347.9" cy="257.6" r="3.7"/><circle cx="1347.9" cy="263.0" r="3.7"/><circle cx="1378.4" cy="235.0" r="3.7"/><circle cx="1378.4" cy="285.6" r="3.7"/><circle cx="1318.0" cy="233.2" r="3.7"/><circle cx="1318.0" cy="287.4" r="3.7"/><circle cx="1358.5" cy="218.8" r="3.7"/><circle cx="1358.5" cy="301.8" r="3.7"/><circle cx="1365.4" cy="219.9" r="3.7"/><circle cx="1365.4" cy="300.7" r="3.7"/><circle cx="1351.6" cy="242.2" r="3.7"/><circle cx="1351.6" cy="278.4" r="3.7"/><circle cx="1362.9" cy="260.3" r="3.7"/><circle cx="1343.6" cy="249.2" r="3.7"/><circle cx="1343.6" cy="271.4" r="3.7"/><circle cx="1380.2" cy="231.4" r="3.7"/><circle cx="1380.2" cy="289.2" r="3.7"/><circle cx="1382.9" cy="249.4" r="3.7"/><circle cx="1382.9" cy="271.2" r="3.7"/><circle cx="1322.7" cy="248.4" r="3.7"/><circle cx="1322.7" cy="272.2" r="3.7"/><circle cx="1350.6" cy="225.9" r="3.7"/><circle cx="1350.6" cy="294.7" r="3.7"/><circle cx="1340.6" cy="249.3" r="3.7"/><circle cx="1340.6" cy="271.3" r="3.7"/><circle cx="1392.5" cy="247.5" r="3.7"/><circle cx="1392.5" cy="273.1" r="3.7"/><circle cx="1352.1" cy="220.7" r="3.7"/><circle cx="1352.1" cy="299.9" r="3.7"/><circle cx="1347.0" cy="216.5" r="3.7"/><circle cx="1347.0" cy="304.1" r="3.7"/><circle cx="1331.9" cy="231.7" r="3.7"/><circle cx="1331.9" cy="288.9" r="3.7"/><circle cx="1358.3" cy="235.9" r="3.7"/><circle cx="1358.3" cy="284.7" r="3.7"/><circle cx="1388.3" cy="254.9" r="3.7"/><circle cx="1388.3" cy="265.7" r="3.7"/><circle cx="1342.0" cy="247.6" r="3.7"/><circle cx="1342.0" cy="273.0" r="3.7"/><circle cx="1308.1" cy="239.0" r="3.7"/><circle cx="1308.1" cy="281.6" r="3.7"/><circle cx="1332.2" cy="254.6" r="3.7"/><circle cx="1332.2" cy="266.0" r="3.7"/><circle cx="1391.6" cy="241.1" r="3.7"/><circle cx="1391.6" cy="279.5" r="3.7"/><circle cx="1361.4" cy="215.9" r="3.7"/><circle cx="1361.4" cy="304.7" r="3.7"/><circle cx="1375.6" cy="233.1" r="3.7"/><circle cx="1375.6" cy="287.5" r="3.7"/><circle cx="1328.3" cy="256.3" r="3.7"/><circle cx="1328.3" cy="264.3" r="3.7"/><circle cx="1355.2" cy="253.6" r="3.7"/><circle cx="1355.2" cy="267.0" r="3.7"/><circle cx="1350.4" cy="237.8" r="3.7"/><circle cx="1350.4" cy="282.8" r="3.7"/><circle cx="1314.3" cy="225.2" r="3.7"/><circle cx="1314.3" cy="295.4" r="3.7"/><circle cx="1348.5" cy="219.3" r="3.7"/><circle cx="1348.5" cy="301.3" r="3.7"/><circle cx="1319.9" cy="229.5" r="3.7"/><circle cx="1319.9" cy="291.1" r="3.7"/><circle cx="1350.6" cy="235.9" r="3.7"/><circle cx="1350.6" cy="284.7" r="3.7"/><circle cx="1316.6" cy="228.5" r="3.7"/><circle cx="1316.6" cy="292.1" r="3.7"/><circle cx="1366.0" cy="260.3" r="3.7"/><circle cx="1365.7" cy="246.4" r="3.7"/><circle cx="1365.7" cy="274.2" r="3.7"/><circle cx="1316.3" cy="247.1" r="3.7"/><circle cx="1316.3" cy="273.5" r="3.7"/><circle cx="1325.7" cy="228.7" r="3.7"/><circle cx="1325.7" cy="291.9" r="3.7"/><circle cx="1316.8" cy="243.4" r="3.7"/><circle cx="1316.8" cy="277.2" r="3.7"/><circle cx="1337.0" cy="228.8" r="3.7"/><circle cx="1337.0" cy="291.8" r="3.7"/><circle cx="1393.8" cy="257.3" r="3.7"/><circle cx="1393.8" cy="263.3" r="3.7"/><circle cx="1385.4" cy="257.8" r="3.7"/><circle cx="1385.4" cy="262.8" r="3.7"/><circle cx="1377.3" cy="245.1" r="3.7"/><circle cx="1377.3" cy="275.5" r="3.7"/><circle cx="1305.3" cy="254.5" r="3.7"/><circle cx="1305.3" cy="266.1" r="3.7"/><circle cx="1328.0" cy="227.7" r="3.7"/><circle cx="1328.0" cy="292.9" r="3.7"/><circle cx="1339.2" cy="238.6" r="3.7"/><circle cx="1339.2" cy="282.0" r="3.7"/><circle cx="1344.8" cy="226.5" r="3.7"/><circle cx="1344.8" cy="294.1" r="3.7"/><circle cx="1336.6" cy="251.3" r="3.7"/><circle cx="1336.6" cy="269.3" r="3.7"/><circle cx="1342.4" cy="221.6" r="3.7"/><circle cx="1342.4" cy="299.0" r="3.7"/><circle cx="1316.9" cy="251.8" r="3.7"/><circle cx="1316.9" cy="268.8" r="3.7"/><circle cx="1312.1" cy="244.5" r="3.7"/><circle cx="1312.1" cy="276.1" r="3.7"/><circle cx="1347.3" cy="233.0" r="3.7"/><circle cx="1347.3" cy="287.6" r="3.7"/><circle cx="1335.4" cy="239.8" r="3.7"/><circle cx="1335.4" cy="280.8" r="3.7"/><circle cx="1347.8" cy="260.3" r="3.7"/><circle cx="1367.6" cy="240.0" r="3.7"/><circle cx="1367.6" cy="280.6" r="3.7"/><circle cx="1333.0" cy="248.8" r="3.7"/><circle cx="1333.0" cy="271.8" r="3.7"/><circle cx="1358.1" cy="215.9" r="3.7"/><circle cx="1358.1" cy="304.7" r="3.7"/><circle cx="1317.1" cy="222.9" r="3.7"/><circle cx="1317.1" cy="297.7" r="3.7"/><circle cx="1388.3" cy="239.5" r="3.7"/><circle cx="1388.3" cy="281.1" r="3.7"/><circle cx="1326.8" cy="243.1" r="3.7"/><circle cx="1326.8" cy="277.5" r="3.7"/><circle cx="1358.7" cy="249.7" r="3.7"/><circle cx="1358.7" cy="270.9" r="3.7"/><circle cx="1373.5" cy="247.2" r="3.7"/><circle cx="1373.5" cy="273.4" r="3.7"/><circle cx="1366.7" cy="225.7" r="3.7"/><circle cx="1366.7" cy="294.9" r="3.7"/><circle cx="1331.1" cy="239.9" r="3.7"/><circle cx="1331.1" cy="280.7" r="3.7"/><circle cx="1363.7" cy="245.5" r="3.7"/><circle cx="1363.7" cy="275.1" r="3.7"/><circle cx="1320.9" cy="239.0" r="3.7"/><circle cx="1320.9" cy="281.6" r="3.7"/><circle cx="1374.3" cy="223.7" r="3.7"/><circle cx="1374.3" cy="296.9" r="3.7"/><circle cx="1309.8" cy="249.2" r="3.7"/><circle cx="1309.8" cy="271.4" r="3.7"/><circle cx="1360.8" cy="228.3" r="3.7"/><circle cx="1360.8" cy="292.3" r="3.7"/><circle cx="1354.1" cy="236.3" r="3.7"/><circle cx="1354.1" cy="284.3" r="3.7"/><circle cx="1359.5" cy="251.7" r="3.7"/><circle cx="1359.5" cy="268.9" r="3.7"/><circle cx="1355.0" cy="232.9" r="3.7"/><circle cx="1355.0" cy="287.7" r="3.7"/><circle cx="1348.6" cy="250.0" r="3.7"/><circle cx="1348.6" cy="270.6" r="3.7"/><circle cx="1364.5" cy="237.0" r="3.7"/><circle cx="1364.5" cy="283.6" r="3.7"/><circle cx="1356.3" cy="214.2" r="3.7"/><circle cx="1356.3" cy="306.4" r="3.7"/><circle cx="1352.8" cy="239.8" r="3.7"/><circle cx="1352.8" cy="280.8" r="3.7"/><circle cx="1371.6" cy="258.3" r="3.7"/><circle cx="1371.6" cy="262.3" r="3.7"/><circle cx="1323.0" cy="251.5" r="3.7"/><circle cx="1323.0" cy="269.1" r="3.7"/><circle cx="1324.2" cy="230.5" r="3.7"/><circle cx="1324.2" cy="290.1" r="3.7"/><circle cx="1373.9" cy="231.6" r="3.7"/><circle cx="1373.9" cy="289.0" r="3.7"/><circle cx="1302.7" cy="258.5" r="3.7"/><circle cx="1302.7" cy="262.1" r="3.7"/><circle cx="1355.6" cy="227.3" r="3.7"/><circle cx="1355.6" cy="293.3" r="3.7"/><circle cx="1322.6" cy="235.4" r="3.7"/><circle cx="1322.6" cy="285.2" r="3.7"/><circle cx="1362.0" cy="220.7" r="3.7"/><circle cx="1362.0" cy="299.9" r="3.7"/>
</g>
<rect x="1151.9" y="60.3" width="537.80" height="399.80" fill="none" stroke="#000" stroke-width="4.3"/>
<path d="M1151.9,460.1 v5.5 M1249.7,460.1 v5.5 M1347.5,460.1 v5.5 M1445.3,460.1 v5.5 M1543.1,460.1 v5.5 M1640.9,460.1 v5.5 M1151.9,60.3 h-5.6 M1151.9,110.3 h-5.6 M1151.9,160.2 h-5.6 M1151.9,210.2 h-5.6 M1151.9,260.2 h-5.6 M1151.9,310.2 h-5.6 M1151.9,360.2 h-5.6 M1151.9,410.1 h-5.6 M1151.9,460.1 h-5.6" stroke="#000" stroke-width="4.1" fill="none"/>
<rect x="1554" y="308" width="24.2" height="24.2" fill="#ff0000"/>
<rect x="1554" y="394" width="24.2" height="24.4" fill="#3333ff"/>
<text class="m" transform="matrix(0.4924 0 0 0.4732 1591.35 334.18)" font-size="100" font-style="italic" stroke="#000" stroke-width="0.29" stroke-linejoin="round">W</text>
<text class="m" transform="matrix(0.4244 0 0 0.3518 1639.73 317.31)" font-size="100">(</text>
<text class="m" transform="matrix(0.5037 0 0 0.3799 1651.40 317.60)" font-size="100" font-style="italic">n</text>
<text class="m" transform="matrix(0.4166 0 0 0.3518 1675.16 317.31)" font-size="100">)</text>
<text class="m" transform="matrix(0.3761 0 0 0.3314 1595.02 389.50)" font-size="100" font-style="italic">W</text>
<text class="m" transform="matrix(0.3536 0 0 0.2839 1631.25 376.80)" font-size="100">(</text>
<text class="m" transform="matrix(0.4228 0 0 0.3075 1641.81 377.08)" font-size="100" font-style="italic">n</text>
<text class="m" transform="matrix(0.3536 0 0 0.2839 1661.39 376.80)" font-size="100">)</text>
<rect x="1595.3" y="401.6" width="79.4" height="3.1" fill="#000"/>
<text class="m" transform="matrix(0.3537 0 0 0.3254 1602.07 439.60)" font-size="100" font-style="italic" stroke="#000" stroke-width="0.41" stroke-linejoin="round">B</text>
<text class="m" transform="matrix(0.3514 0 0 0.2839 1626.36 430.00)" font-size="100">(</text>
<text class="m" transform="matrix(0.4201 0 0 0.3075 1636.85 430.28)" font-size="100" font-style="italic">n</text>
<text class="m" transform="matrix(0.3514 0 0 0.2839 1656.31 430.00)" font-size="100">)</text>
<text class="s" transform="matrix(0.4326 0 0 0.4194 1048.55 42.39)" font-size="100" font-weight="bold">b</text>
<text class="s" transform="matrix(0.2869 0 0 0.2936 1132.47 37.20)" font-size="100" font-style="italic">Im</text>
<text class="s" transform="matrix(0.3709 0 0 0.3669 1291.46 34.69)" font-size="100">Eigenvalues</text>
<text class="s" transform="matrix(0.3136 0 0 0.3372 1114.48 72.00)" font-size="100">4</text>
<text class="s" transform="matrix(0.3305 0 0 0.3404 1111.61 260.37)" font-size="100">0</text>
<text class="s" transform="matrix(0.3115 0 0 0.3314 1087.52 453.90)" font-size="100">-4</text>
<text class="s" transform="matrix(0.3152 0 0 0.3372 1132.50 496.90)" font-size="100">-4</text>
<text class="s" transform="matrix(0.3347 0 0 0.3291 1335.79 496.08)" font-size="100">0</text>
<text class="s" transform="matrix(0.3274 0 0 0.3256 1531.35 496.40)" font-size="100">4</text>
<text class="s" transform="matrix(0.2891 0 0 0.2856 1714.41 473.75)" font-size="100" font-style="italic">R</text>
<text class="s" transform="matrix(0.2774 0 0 0.2774 1734.37 473.83)" font-size="100" font-style="italic">e</text>
</g>
<g id="panel-d">
<g fill="#1a1aff" fill-opacity="0.9">
<circle cx="1304.3" cy="864.5" r="3.6"/><circle cx="1311.5" cy="864.5" r="3.6"/><circle cx="1317.2" cy="864.5" r="3.6"/><circle cx="1323.4" cy="864.5" r="3.6"/><circle cx="1330.3" cy="864.5" r="3.6"/><circle cx="1335.1" cy="864.5" r="3.6"/><circle cx="1342.9" cy="864.5" r="3.6"/><circle cx="1349.0" cy="864.5" r="3.6"/><circle cx="1355.2" cy="864.5" r="3.6"/><circle cx="1361.1" cy="864.5" r="3.6"/><circle cx="1368.0" cy="864.5" r="3.6"/><circle cx="1373.4" cy="864.5" r="3.6"/><circle cx="1380.6" cy="864.5" r="3.6"/><circle cx="1386.4" cy="864.5" r="3.6"/><circle cx="1394.1" cy="864.5" r="3.6"/><circle cx="1400.2" cy="864.5" r="3.6"/><circle cx="1342.3" cy="836.2" r="3.6"/><circle cx="1342.3" cy="892.8" r="3.6"/><circle cx="1386.9" cy="846.6" r="3.6"/><circle cx="1386.9" cy="882.4" r="3.6"/><circle cx="1313.2" cy="849.0" r="3.6"/><circle cx="1313.2" cy="880.0" r="3.6"/><circle cx="1366.0" cy="853.1" r="3.6"/><circle cx="1366.0" cy="875.9" r="3.6"/><circle cx="1361.5" cy="817.1" r="3.6"/><circle cx="1361.5" cy="911.9" r="3.6"/><circle cx="1341.8" cy="818.8" r="3.6"/><circle cx="1341.8" cy="910.2" r="3.6"/><circle cx="1340.0" cy="855.9" r="3.6"/><circle cx="1340.0" cy="873.1" r="3.6"/><circle cx="1373.0" cy="828.5" r="3.6"/><circle cx="1373.0" cy="900.5" r="3.6"/><circle cx="1316.9" cy="864.5" r="3.6"/><circle cx="1349.8" cy="831.2" r="3.6"/><circle cx="1349.8" cy="897.8" r="3.6"/><circle cx="1331.3" cy="839.6" r="3.6"/><circle cx="1331.3" cy="889.4" r="3.6"/><circle cx="1390.3" cy="857.2" r="3.6"/><circle cx="1390.3" cy="871.8" r="3.6"/><circle cx="1323.8" cy="834.2" r="3.6"/><circle cx="1323.8" cy="894.8" r="3.6"/><circle cx="1362.1" cy="839.5" r="3.6"/><circle cx="1362.1" cy="889.5" r="3.6"/><circle cx="1384.2" cy="834.4" r="3.6"/><circle cx="1384.2" cy="894.6" r="3.6"/><circle cx="1391.1" cy="841.4" r="3.6"/><circle cx="1391.1" cy="887.6" r="3.6"/><circle cx="1373.6" cy="855.8" r="3.6"/><circle cx="1373.6" cy="873.2" r="3.6"/><circle cx="1332.8" cy="824.6" r="3.6"/><circle cx="1332.8" cy="904.4" r="3.6"/><circle cx="1348.6" cy="864.5" r="3.6"/><circle cx="1349.5" cy="824.5" r="3.6"/><circle cx="1349.5" cy="904.5" r="3.6"/><circle cx="1325.2" cy="826.1" r="3.6"/><circle cx="1325.2" cy="902.9" r="3.6"/><circle cx="1320.8" cy="858.5" r="3.6"/><circle cx="1320.8" cy="870.5" r="3.6"/><circle cx="1329.5" cy="854.1" r="3.6"/><circle cx="1329.5" cy="874.9" r="3.6"/><circle cx="1313.2" cy="837.5" r="3.6"/><circle cx="1313.2" cy="891.5" r="3.6"/><circle cx="1395.3" cy="864.5" r="3.6"/><circle cx="1351.8" cy="850.1" r="3.6"/><circle cx="1351.8" cy="878.9" r="3.6"/><circle cx="1367.9" cy="824.0" r="3.6"/><circle cx="1367.9" cy="905.0" r="3.6"/><circle cx="1375.9" cy="841.3" r="3.6"/><circle cx="1375.9" cy="887.7" r="3.6"/><circle cx="1322.1" cy="852.6" r="3.6"/><circle cx="1322.1" cy="876.4" r="3.6"/><circle cx="1354.7" cy="839.5" r="3.6"/><circle cx="1354.7" cy="889.5" r="3.6"/><circle cx="1366.1" cy="859.9" r="3.6"/><circle cx="1366.1" cy="869.1" r="3.6"/><circle cx="1316.8" cy="844.6" r="3.6"/><circle cx="1316.8" cy="884.4" r="3.6"/><circle cx="1358.3" cy="854.1" r="3.6"/><circle cx="1358.3" cy="874.9" r="3.6"/><circle cx="1343.1" cy="841.5" r="3.6"/><circle cx="1343.1" cy="887.5" r="3.6"/><circle cx="1365.0" cy="817.8" r="3.6"/><circle cx="1365.0" cy="911.2" r="3.6"/><circle cx="1349.3" cy="817.5" r="3.6"/><circle cx="1349.3" cy="911.5" r="3.6"/><circle cx="1311.4" cy="858.5" r="3.6"/><circle cx="1311.4" cy="870.5" r="3.6"/><circle cx="1364.2" cy="832.7" r="3.6"/><circle cx="1364.2" cy="896.3" r="3.6"/><circle cx="1333.3" cy="864.5" r="3.6"/><circle cx="1336.8" cy="846.0" r="3.6"/><circle cx="1336.8" cy="883.0" r="3.6"/><circle cx="1308.6" cy="850.4" r="3.6"/><circle cx="1308.6" cy="878.6" r="3.6"/><circle cx="1392.4" cy="853.3" r="3.6"/><circle cx="1392.4" cy="875.7" r="3.6"/><circle cx="1332.3" cy="832.6" r="3.6"/><circle cx="1332.3" cy="896.4" r="3.6"/><circle cx="1396.6" cy="850.4" r="3.6"/><circle cx="1396.6" cy="878.6" r="3.6"/><circle cx="1337.9" cy="841.7" r="3.6"/><circle cx="1337.9" cy="887.3" r="3.6"/><circle cx="1385.7" cy="851.9" r="3.6"/><circle cx="1385.7" cy="877.1" r="3.6"/><circle cx="1345.4" cy="827.0" r="3.6"/><circle cx="1345.4" cy="902.0" r="3.6"/><circle cx="1357.1" cy="825.3" r="3.6"/><circle cx="1357.1" cy="903.7" r="3.6"/><circle cx="1397.5" cy="858.4" r="3.6"/><circle cx="1397.5" cy="870.6" r="3.6"/><circle cx="1324.6" cy="840.7" r="3.6"/><circle cx="1324.6" cy="888.3" r="3.6"/><circle cx="1377.4" cy="846.8" r="3.6"/><circle cx="1377.4" cy="882.2" r="3.6"/><circle cx="1367.5" cy="848.9" r="3.6"/><circle cx="1367.5" cy="880.1" r="3.6"/><circle cx="1354.2" cy="818.9" r="3.6"/><circle cx="1354.2" cy="910.1" r="3.6"/><circle cx="1349.9" cy="843.0" r="3.6"/><circle cx="1349.9" cy="886.0" r="3.6"/><circle cx="1394.2" cy="845.3" r="3.6"/><circle cx="1394.2" cy="883.7" r="3.6"/><circle cx="1337.7" cy="821.2" r="3.6"/><circle cx="1337.7" cy="907.8" r="3.6"/><circle cx="1308.7" cy="855.1" r="3.6"/><circle cx="1308.7" cy="873.9" r="3.6"/><circle cx="1337.5" cy="836.0" r="3.6"/><circle cx="1337.5" cy="893.0" r="3.6"/><circle cx="1332.0" cy="858.0" r="3.6"/><circle cx="1332.0" cy="871.0" r="3.6"/><circle cx="1380.9" cy="839.9" r="3.6"/><circle cx="1380.9" cy="889.1" r="3.6"/><circle cx="1359.6" cy="861.7" r="3.6"/><circle cx="1359.6" cy="867.3" r="3.6"/><circle cx="1343.9" cy="864.5" r="3.6"/><circle cx="1379.8" cy="826.0" r="3.6"/><circle cx="1379.8" cy="903.0" r="3.6"/><circle cx="1379.5" cy="856.1" r="3.6"/><circle cx="1379.5" cy="872.9" r="3.6"/><circle cx="1346.6" cy="854.4" r="3.6"/><circle cx="1346.6" cy="874.6" r="3.6"/><circle cx="1342.9" cy="838.9" r="3.6"/><circle cx="1342.9" cy="890.1" r="3.6"/><circle cx="1357.6" cy="848.8" r="3.6"/><circle cx="1357.6" cy="880.2" r="3.6"/><circle cx="1371.7" cy="821.5" r="3.6"/><circle cx="1371.7" cy="907.5" r="3.6"/><circle cx="1382.3" cy="848.5" r="3.6"/><circle cx="1382.3" cy="880.5" r="3.6"/><circle cx="1320.8" cy="829.8" r="3.6"/><circle cx="1320.8" cy="899.2" r="3.6"/><circle cx="1375.8" cy="860.8" r="3.6"/><circle cx="1375.8" cy="868.2" r="3.6"/><circle cx="1343.5" cy="847.2" r="3.6"/><circle cx="1343.5" cy="881.8" r="3.6"/><circle cx="1381.8" cy="844.4" r="3.6"/><circle cx="1381.8" cy="884.6" r="3.6"/><circle cx="1335.3" cy="829.7" r="3.6"/><circle cx="1335.3" cy="899.3" r="3.6"/><circle cx="1387.3" cy="837.7" r="3.6"/><circle cx="1387.3" cy="891.3" r="3.6"/><circle cx="1362.0" cy="823.5" r="3.6"/><circle cx="1362.0" cy="905.5" r="3.6"/><circle cx="1362.2" cy="844.2" r="3.6"/><circle cx="1362.2" cy="884.8" r="3.6"/><circle cx="1361.0" cy="829.7" r="3.6"/><circle cx="1361.0" cy="899.3" r="3.6"/><circle cx="1325.9" cy="859.0" r="3.6"/><circle cx="1325.9" cy="870.0" r="3.6"/><circle cx="1378.2" cy="831.1" r="3.6"/><circle cx="1378.2" cy="897.9" r="3.6"/><circle cx="1337.7" cy="851.4" r="3.6"/><circle cx="1337.7" cy="877.6" r="3.6"/><circle cx="1325.5" cy="851.3" r="3.6"/><circle cx="1325.5" cy="877.7" r="3.6"/><circle cx="1371.3" cy="846.0" r="3.6"/><circle cx="1371.3" cy="883.0" r="3.6"/><circle cx="1360.7" cy="857.9" r="3.6"/><circle cx="1360.7" cy="871.1" r="3.6"/><circle cx="1367.6" cy="836.2" r="3.6"/><circle cx="1367.6" cy="892.8" r="3.6"/><circle cx="1318.1" cy="838.2" r="3.6"/><circle cx="1318.1" cy="890.8" r="3.6"/><circle cx="1321.6" cy="846.7" r="3.6"/><circle cx="1321.6" cy="882.3" r="3.6"/><circle cx="1312.8" cy="855.6" r="3.6"/><circle cx="1312.8" cy="873.4" r="3.6"/><circle cx="1350.0" cy="837.0" r="3.6"/><circle cx="1350.0" cy="892.0" r="3.6"/><circle cx="1373.8" cy="838.0" r="3.6"/><circle cx="1373.8" cy="891.0" r="3.6"/><circle cx="1305.7" cy="858.7" r="3.6"/><circle cx="1305.7" cy="870.3" r="3.6"/><circle cx="1304.7" cy="856.1" r="3.6"/><circle cx="1304.7" cy="872.9" r="3.6"/><circle cx="1327.2" cy="838.7" r="3.6"/><circle cx="1327.2" cy="890.3" r="3.6"/><circle cx="1360.5" cy="854.8" r="3.6"/><circle cx="1360.5" cy="874.2" r="3.6"/><circle cx="1328.2" cy="861.3" r="3.6"/><circle cx="1328.2" cy="867.7" r="3.6"/><circle cx="1333.7" cy="853.2" r="3.6"/><circle cx="1333.7" cy="875.8" r="3.6"/><circle cx="1369.2" cy="857.2" r="3.6"/><circle cx="1369.2" cy="871.8" r="3.6"/><circle cx="1304.2" cy="864.5" r="3.6"/><circle cx="1331.6" cy="843.9" r="3.6"/><circle cx="1331.6" cy="885.1" r="3.6"/><circle cx="1309.6" cy="841.2" r="3.6"/><circle cx="1309.6" cy="887.8" r="3.6"/><circle cx="1394.9" cy="848.3" r="3.6"/><circle cx="1394.9" cy="880.7" r="3.6"/><circle cx="1346.1" cy="846.6" r="3.6"/><circle cx="1346.1" cy="882.4" r="3.6"/><circle cx="1368.2" cy="839.2" r="3.6"/><circle cx="1368.2" cy="889.8" r="3.6"/><circle cx="1354.2" cy="831.5" r="3.6"/><circle cx="1354.2" cy="897.5" r="3.6"/><circle cx="1318.8" cy="850.8" r="3.6"/><circle cx="1318.8" cy="878.2" r="3.6"/><circle cx="1321.5" cy="862.7" r="3.6"/><circle cx="1321.5" cy="866.3" r="3.6"/><circle cx="1369.4" cy="826.9" r="3.6"/><circle cx="1369.4" cy="902.1" r="3.6"/><circle cx="1316.9" cy="855.7" r="3.6"/><circle cx="1316.9" cy="873.3" r="3.6"/><circle cx="1389.7" cy="849.5" r="3.6"/><circle cx="1389.7" cy="879.5" r="3.6"/><circle cx="1381.1" cy="864.5" r="3.6"/><circle cx="1382.9" cy="854.7" r="3.6"/><circle cx="1382.9" cy="874.3" r="3.6"/><circle cx="1364.5" cy="864.5" r="3.6"/><circle cx="1359.1" cy="837.1" r="3.6"/><circle cx="1359.1" cy="891.9" r="3.6"/><circle cx="1343.7" cy="829.8" r="3.6"/><circle cx="1343.7" cy="899.2" r="3.6"/><circle cx="1328.2" cy="821.9" r="3.6"/><circle cx="1328.2" cy="907.1" r="3.6"/><circle cx="1310.5" cy="852.5" r="3.6"/><circle cx="1310.5" cy="876.5" r="3.6"/><circle cx="1351.9" cy="854.9" r="3.6"/><circle cx="1351.9" cy="874.1" r="3.6"/><circle cx="1362.5" cy="835.2" r="3.6"/><circle cx="1362.5" cy="893.8" r="3.6"/><circle cx="1338.3" cy="826.6" r="3.6"/><circle cx="1338.3" cy="902.4" r="3.6"/><circle cx="1384.1" cy="858.8" r="3.6"/><circle cx="1384.1" cy="870.2" r="3.6"/><circle cx="1307.5" cy="862.6" r="3.6"/><circle cx="1307.5" cy="866.4" r="3.6"/><circle cx="1341.0" cy="823.8" r="3.6"/><circle cx="1341.0" cy="905.2" r="3.6"/><circle cx="1344.8" cy="822.2" r="3.6"/><circle cx="1344.8" cy="906.8" r="3.6"/><circle cx="1349.2" cy="860.2" r="3.6"/><circle cx="1349.2" cy="868.8" r="3.6"/><circle cx="1349.2" cy="848.4" r="3.6"/><circle cx="1349.2" cy="880.6" r="3.6"/><circle cx="1358.1" cy="843.6" r="3.6"/><circle cx="1358.1" cy="885.4" r="3.6"/><circle cx="1371.0" cy="858.2" r="3.6"/><circle cx="1371.0" cy="870.8" r="3.6"/><circle cx="1366.2" cy="842.9" r="3.6"/><circle cx="1366.2" cy="886.1" r="3.6"/><circle cx="1342.7" cy="852.1" r="3.6"/><circle cx="1342.7" cy="876.9" r="3.6"/><circle cx="1318.7" cy="861.8" r="3.6"/><circle cx="1318.7" cy="867.2" r="3.6"/><circle cx="1351.3" cy="822.0" r="3.6"/><circle cx="1351.3" cy="907.0" r="3.6"/><circle cx="1335.5" cy="848.9" r="3.6"/><circle cx="1335.5" cy="880.1" r="3.6"/><circle cx="1381.6" cy="860.4" r="3.6"/><circle cx="1381.6" cy="868.6" r="3.6"/><circle cx="1389.6" cy="845.4" r="3.6"/><circle cx="1389.6" cy="883.6" r="3.6"/><circle cx="1377.9" cy="836.2" r="3.6"/><circle cx="1377.9" cy="892.8" r="3.6"/><circle cx="1372.1" cy="862.4" r="3.6"/><circle cx="1372.1" cy="866.6" r="3.6"/><circle cx="1359.5" cy="821.0" r="3.6"/><circle cx="1359.5" cy="908.0" r="3.6"/><circle cx="1375.2" cy="834.4" r="3.6"/><circle cx="1375.2" cy="894.6" r="3.6"/><circle cx="1378.7" cy="859.1" r="3.6"/><circle cx="1378.7" cy="869.9" r="3.6"/><circle cx="1336.8" cy="861.0" r="3.6"/><circle cx="1336.8" cy="868.0" r="3.6"/><circle cx="1352.3" cy="859.2" r="3.6"/><circle cx="1352.3" cy="869.8" r="3.6"/><circle cx="1354.2" cy="837.4" r="3.6"/><circle cx="1354.2" cy="891.6" r="3.6"/><circle cx="1347.8" cy="822.2" r="3.6"/><circle cx="1347.8" cy="906.8" r="3.6"/><circle cx="1400.2" cy="864.5" r="3.6"/><circle cx="1389.9" cy="861.0" r="3.6"/><circle cx="1389.9" cy="868.0" r="3.6"/><circle cx="1355.4" cy="816.5" r="3.6"/><circle cx="1355.4" cy="912.5" r="3.6"/><circle cx="1372.2" cy="851.4" r="3.6"/><circle cx="1372.2" cy="877.6" r="3.6"/><circle cx="1345.3" cy="857.2" r="3.6"/><circle cx="1345.3" cy="871.8" r="3.6"/><circle cx="1344.8" cy="843.9" r="3.6"/><circle cx="1344.8" cy="885.1" r="3.6"/><circle cx="1327.2" cy="833.7" r="3.6"/><circle cx="1327.2" cy="895.3" r="3.6"/><circle cx="1310.4" cy="861.8" r="3.6"/><circle cx="1310.4" cy="867.2" r="3.6"/><circle cx="1385.0" cy="830.6" r="3.6"/><circle cx="1385.0" cy="898.4" r="3.6"/><circle cx="1382.7" cy="826.9" r="3.6"/><circle cx="1382.7" cy="902.1" r="3.6"/><circle cx="1375.3" cy="824.1" r="3.6"/><circle cx="1375.3" cy="904.9" r="3.6"/><circle cx="1395.4" cy="854.7" r="3.6"/><circle cx="1395.4" cy="874.3" r="3.6"/><circle cx="1306.8" cy="852.0" r="3.6"/><circle cx="1306.8" cy="877.0" r="3.6"/><circle cx="1340.4" cy="826.4" r="3.6"/><circle cx="1340.4" cy="902.6" r="3.6"/><circle cx="1360.9" cy="850.6" r="3.6"/><circle cx="1360.9" cy="878.4" r="3.6"/><circle cx="1327.6" cy="842.8" r="3.6"/><circle cx="1327.6" cy="886.2" r="3.6"/><circle cx="1364.6" cy="837.2" r="3.6"/><circle cx="1364.6" cy="891.8" r="3.6"/><circle cx="1336.7" cy="857.7" r="3.6"/><circle cx="1336.7" cy="871.3" r="3.6"/><circle cx="1310.0" cy="847.4" r="3.6"/><circle cx="1310.0" cy="881.6" r="3.6"/><circle cx="1344.9" cy="819.0" r="3.6"/><circle cx="1344.9" cy="910.0" r="3.6"/><circle cx="1380.4" cy="829.9" r="3.6"/><circle cx="1380.4" cy="899.1" r="3.6"/><circle cx="1389.1" cy="834.8" r="3.6"/><circle cx="1389.1" cy="894.2" r="3.6"/><circle cx="1386.6" cy="849.7" r="3.6"/><circle cx="1386.6" cy="879.3" r="3.6"/><circle cx="1312.1" cy="845.7" r="3.6"/><circle cx="1312.1" cy="883.3" r="3.6"/><circle cx="1331.2" cy="835.7" r="3.6"/><circle cx="1331.2" cy="893.3" r="3.6"/><circle cx="1363.1" cy="828.3" r="3.6"/><circle cx="1363.1" cy="900.7" r="3.6"/><circle cx="1352.5" cy="825.8" r="3.6"/><circle cx="1352.5" cy="903.2" r="3.6"/><circle cx="1358.0" cy="830.8" r="3.6"/><circle cx="1358.0" cy="898.2" r="3.6"/><circle cx="1352.9" cy="864.5" r="3.6"/><circle cx="1329.2" cy="826.4" r="3.6"/><circle cx="1329.2" cy="902.6" r="3.6"/><circle cx="1368.5" cy="832.5" r="3.6"/><circle cx="1368.5" cy="896.5" r="3.6"/><circle cx="1356.0" cy="864.5" r="3.6"/><circle cx="1396.2" cy="843.3" r="3.6"/><circle cx="1396.2" cy="885.7" r="3.6"/><circle cx="1340.4" cy="861.6" r="3.6"/><circle cx="1340.4" cy="867.4" r="3.6"/><circle cx="1377.1" cy="854.2" r="3.6"/><circle cx="1377.1" cy="874.8" r="3.6"/><circle cx="1335.5" cy="836.8" r="3.6"/><circle cx="1335.5" cy="892.2" r="3.6"/><circle cx="1316.3" cy="841.1" r="3.6"/><circle cx="1316.3" cy="887.9" r="3.6"/><circle cx="1347.1" cy="843.3" r="3.6"/><circle cx="1347.1" cy="885.7" r="3.6"/><circle cx="1341.6" cy="844.7" r="3.6"/><circle cx="1341.6" cy="884.3" r="3.6"/><circle cx="1346.2" cy="834.8" r="3.6"/><circle cx="1346.2" cy="894.2" r="3.6"/><circle cx="1306.3" cy="847.3" r="3.6"/><circle cx="1306.3" cy="881.7" r="3.6"/><circle cx="1397.7" cy="847.8" r="3.6"/><circle cx="1397.7" cy="881.2" r="3.6"/>
</g>
<rect x="1158.0" y="665.3" width="535.30" height="398.70" fill="none" stroke="#000" stroke-width="4.3"/>
<path d="M1158.1,1064.0 v5.5 M1255.3,1064.0 v5.5 M1352.6,1064.0 v5.5 M1449.8,1064.0 v5.5 M1547.1,1064.0 v5.5 M1644.3,1064.0 v5.5 M1158.0,665.3 h-5.6 M1158.0,715.1 h-5.6 M1158.0,765.0 h-5.6 M1158.0,814.8 h-5.6 M1158.0,864.7 h-5.6 M1158.0,914.5 h-5.6 M1158.0,964.3 h-5.6 M1158.0,1014.2 h-5.6 M1158.0,1064.0 h-5.6" stroke="#000" stroke-width="4.1" fill="none"/>
<rect x="1560.7" y="992" width="25" height="25" fill="#3333ff"/>
<text class="m" transform="matrix(0.3761 0 0 0.3314 1599.02 992.50)" font-size="100" font-style="italic">W</text>
<text class="m" transform="matrix(0.3536 0 0 0.2839 1635.25 979.80)" font-size="100">(</text>
<text class="m" transform="matrix(0.4228 0 0 0.3075 1645.81 980.08)" font-size="100" font-style="italic">n</text>
<text class="m" transform="matrix(0.3536 0 0 0.2839 1665.39 979.80)" font-size="100">)</text>
<rect x="1599.3" y="1004.6" width="79.4" height="3.1" fill="#000"/>
<text class="m" transform="matrix(0.3537 0 0 0.3254 1606.07 1042.60)" font-size="100" font-style="italic" stroke="#000" stroke-width="0.41" stroke-linejoin="round">B</text>
<text class="m" transform="matrix(0.3514 0 0 0.2839 1630.36 1033.00)" font-size="100">(</text>
<text class="m" transform="matrix(0.4201 0 0 0.3075 1640.85 1033.28)" font-size="100" font-style="italic">n</text>
<text class="m" transform="matrix(0.3514 0 0 0.2839 1660.31 1033.00)" font-size="100">)</text>
<text class="s" transform="matrix(0.4406 0 0 0.4180 1037.29 616.39)" font-size="100" font-weight="bold">d</text>
<text class="s" transform="matrix(0.2917 0 0 0.2922 1131.15 635.00)" font-size="100" font-style="italic">Im</text>
<text class="s" transform="matrix(0.3709 0 0 0.3712 1321.46 640.70)" font-size="100">Eigenvalues</text>
<text class="s" transform="matrix(0.3255 0 0 0.3358 1111.15 675.10)" font-size="100">4</text>
<text class="s" transform="matrix(0.3305 0 0 0.3404 1109.71 863.27)" font-size="100">0</text>
<text class="s" transform="matrix(0.3287 0 0 0.3314 1097.24 1056.20)" font-size="100">-4</text>
<text class="s" transform="matrix(0.3152 0 0 0.3329 1139.50 1100.00)" font-size="100">-4</text>
<text class="s" transform="matrix(0.3347 0 0 0.3291 1341.59 1098.28)" font-size="100">0</text>
<text class="s" transform="matrix(0.3195 0 0 0.3387 1538.57 1100.00)" font-size="100">4</text>
<text class="s" transform="matrix(0.2884 0 0 0.2892 1715.36 1073.00)" font-size="100" font-style="italic">R</text>
<text class="s" transform="matrix(0.2811 0 0 0.2811 1735.25 1073.03)" font-size="100" font-style="italic">e</text>
</g>
</svg>
</body>
</html>
